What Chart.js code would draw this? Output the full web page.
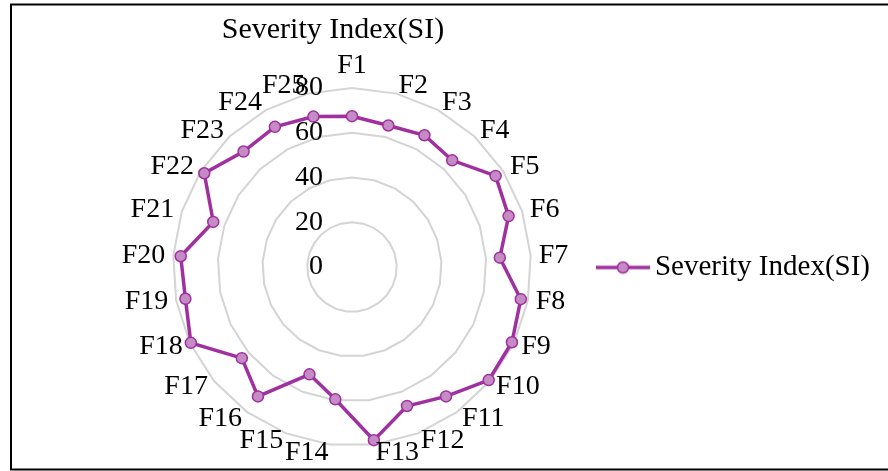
<!DOCTYPE html>
<html>
<head>
<meta charset="utf-8">
<script src="https://cdn.jsdelivr.net/npm/chart.js@4/dist/chart.umd.min.js"></script>
<style>
  html, body { margin: 0; padding: 0; background: #fff; }
  #chart { display: block; }
</style>
</head>
<body>
<canvas id="chart" width="888" height="471"></canvas>
<script>
// data
const categories = ['F1', 'F2', 'F3', 'F4', 'F5', 'F6', 'F7', 'F8', 'F9', 'F10',
    'F11', 'F12', 'F13', 'F14', 'F15', 'F16', 'F17', 'F18', 'F19', 'F20',
    'F21', 'F22', 'F23', 'F24', 'F25'];
const severityIndex = [67.4, 65.3, 67.2, 65.4, 76.0, 73.6, 66.2, 76.8, 79.0, 79.3,
    71.5, 66.8, 78.0, 59.6, 51.6, 71.5, 63.9, 79.6, 75.8, 76.7,
    65.2, 78.2, 70.8, 71.5, 69.4];
const tickValues = [0, 20, 40, 60, 80];
const seriesName = 'Severity Index(SI)';
const chartTitle = 'Severity Index(SI)';

const FONT = "'Liberation Serif', 'Times New Roman', serif";
const LINE = '#A0309F';
const FILL = '#C58BC5';

// legend marker: line with a dot, like the Excel legend
function makeMarker() {
    const c = document.createElement('canvas');
    c.width = 54;
    c.height = 14;
    const g = c.getContext('2d');
    g.strokeStyle = LINE;
    g.lineWidth = 3.5;
    g.beginPath();
    g.moveTo(0, 7);
    g.lineTo(54, 7);
    g.stroke();
    g.beginPath();
    g.arc(27, 7, 5.5, 0, Math.PI * 2);
    g.fillStyle = FILL;
    g.fill();
    g.lineWidth = 1.5;
    g.stroke();
    return c;
}

// title, tick numbers, category labels and frame
const textPlugin = {
    id: 'textPlugin',
    afterDraw(chart) {
        const ctx = chart.ctx;
        const r = chart.scales.r;
        ctx.save();
        ctx.fillStyle = '#000';
        ctx.font = '30px ' + FONT;
        ctx.textAlign = 'center';
        ctx.textBaseline = 'alphabetic';
        ctx.fillText(chartTitle, 333, 38);

        ctx.font = '28px ' + FONT;
        ctx.textAlign = 'right';
        ctx.textBaseline = 'middle';
        tickValues.forEach(v => {
            const d = r.getDistanceFromCenterForValue(v);
            ctx.fillText(String(v), r.xCenter - 29, r.yCenter - d);
        });

        const labelDist = r.getDistanceFromCenterForValue(80) + 8;
        categories.forEach((lab, i) => {
            const p = r.getPointPosition(i, labelDist);
            const deg = i * 360 / categories.length;
            if (deg === 0) {
                ctx.textAlign = 'center';
                ctx.textBaseline = 'bottom';
            } else {
                ctx.textAlign = deg < 180 ? 'left' : 'right';
                ctx.textBaseline = 'middle';
            }
            ctx.fillText(lab, p.x, p.y);
        });

        ctx.strokeStyle = '#000';
        ctx.lineWidth = 2;
        ctx.beginPath();
        ctx.moveTo(900, 4.5);
        ctx.lineTo(11, 4.5);
        ctx.lineTo(11, 469.5);
        ctx.lineTo(900, 469.5);
        ctx.stroke();
        ctx.restore();
    }
};

new Chart(document.getElementById('chart'), {
    type: 'radar',
    data: {
        labels: categories,
        datasets: [{
            label: seriesName,
            data: severityIndex,
            borderColor: LINE,
            backgroundColor: FILL,
            borderWidth: 3.5,
            fill: false,
            tension: 0,
            pointRadius: 5.5,
            pointBorderWidth: 1.5,
            pointBackgroundColor: FILL,
            pointBorderColor: LINE
        }]
    },
    options: {
        responsive: false,
        animation: false,
        layout: { padding: { left: 110, right: 8, top: 88.5, bottom: 24.5 } },
        scales: {
            r: {
                min: 0,
                max: 80,
                ticks: { stepSize: 20, display: false },
                grid: { color: '#D4D4D4', lineWidth: 2 },
                angleLines: { display: false },
                pointLabels: { display: false }
            }
        },
        plugins: {
            title: { display: false },
            tooltip: { enabled: false },
            legend: {
                position: 'right',
                labels: {
                    usePointStyle: true,
                    pointStyle: makeMarker(),
                    pointStyleWidth: 35,
                    color: '#000',
                    font: { family: FONT, size: 29 }
                }
            }
        }
    },
    plugins: [textPlugin]
});
</script>
</body>
</html>
